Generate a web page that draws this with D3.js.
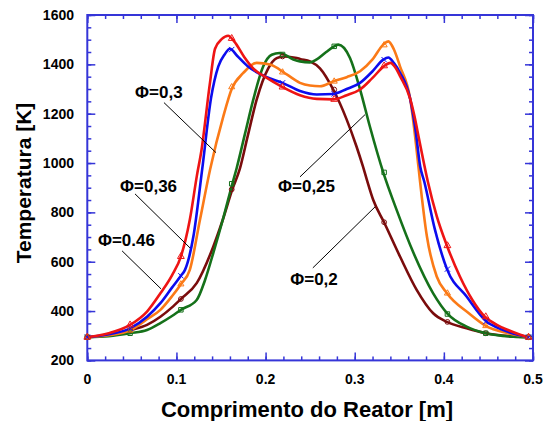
<!DOCTYPE html>
<html><head><meta charset="utf-8">
<script src="https://cdn.jsdelivr.net/npm/d3@7"></script>
<style>body{margin:0;background:#fff}</style>
</head><body><svg id="c" width="543" height="421"></svg>
<script>
// ---------- data ----------
const xTicks = [0, 0.1, 0.2, 0.3, 0.4, 0.5];
const xTickLabels = ["0", "0.1", "0.2", "0.3", "0.4", "0.5"];
const yTicks = [200, 400, 600, 800, 1000, 1200, 1400, 1600];
const xTitle = "Comprimento do Reator [m]";
const yTitle = "Temperatura [K]";

const markerX = [0, 0.048, 0.105, 0.162, 0.219, 0.277, 0.333, 0.404, 0.447, 0.495];

const phi046 = [[0,294],[0.024,310],[0.048,344],[0.067,398],[0.082,472],[0.095,545],[0.105,621],[0.115,770],[0.123,950],[0.128,1050],[0.1376,1325],[0.1433,1463],[0.151,1503],[0.158,1516],[0.165,1492],[0.176,1430],[0.187,1380],[0.2,1348],[0.219,1308],[0.2386,1275],[0.2574,1260],[0.276,1258],[0.291,1275],[0.306,1298],[0.32,1345],[0.334,1396],[0.34,1406],[0.346,1385],[0.351,1351],[0.362,1263],[0.367,1190],[0.372,1100],[0.377,1010],[0.382,925],[0.392,785],[0.4035,665],[0.418,540],[0.432,445],[0.446,377],[0.46,343],[0.472,323],[0.485,305],[0.495,294]];
const phi036 = [[0,294],[0.024,306],[0.048,330],[0.067,377],[0.082,432],[0.095,495],[0.105,543],[0.1096,567],[0.119,702],[0.1289,975],[0.1388,1263],[0.147,1392],[0.154,1440],[0.160,1463],[0.168,1435],[0.18,1392],[0.2,1350],[0.219,1325],[0.2386,1292],[0.2574,1278],[0.276,1280],[0.291,1300],[0.306,1325],[0.32,1372],[0.332,1419],[0.3377,1428],[0.344,1405],[0.351,1365],[0.362,1263],[0.368,1140],[0.3735,985],[0.378,925],[0.39,730],[0.4035,570],[0.4255,459],[0.448,357],[0.46,333],[0.472,316],[0.485,302],[0.495,294]];
const phi030 = [[0,294],[0.024,302],[0.048,322],[0.067,367],[0.082,405],[0.095,460],[0.105,509],[0.115,567],[0.1264,770],[0.1377,973],[0.1526,1189],[0.162,1300],[0.175,1365],[0.19,1406],[0.205,1399],[0.2237,1359],[0.2386,1325],[0.2498,1314],[0.261,1311],[0.276,1331],[0.291,1348],[0.306,1372],[0.32,1420],[0.332,1480],[0.3377,1493],[0.344,1460],[0.3508,1392],[0.3621,1263],[0.3715,985],[0.373,935],[0.381,702],[0.392,540],[0.4035,472],[0.428,391],[0.447,340],[0.472,310],[0.495,294]];
const phi025 = [[0,294],[0.024,298],[0.048,310],[0.067,323],[0.082,351],[0.095,380],[0.105,405],[0.1227,445],[0.132,525],[0.1413,635],[0.152,770],[0.1627,916],[0.1676,980],[0.177,1120],[0.1862,1257],[0.1974,1392],[0.2069,1439],[0.2157,1446],[0.2311,1420],[0.2386,1412],[0.2499,1408],[0.2574,1420],[0.268,1450],[0.277,1473],[0.2816,1480],[0.2947,1426],[0.3059,1300],[0.317,1148],[0.332,962],[0.347,810],[0.366,635],[0.388,472],[0.4045,388],[0.4255,337],[0.447,310],[0.478,296],[0.495,294]];
const phi020 = [[0,294],[0.024,302],[0.048,322],[0.067,344],[0.082,377],[0.095,415],[0.105,449],[0.1227,513],[0.1413,661],[0.152,770],[0.1627,893],[0.171,975],[0.18,1110],[0.19,1257],[0.203,1384],[0.2125,1425],[0.22,1432],[0.235,1426],[0.2386,1422],[0.2499,1412],[0.261,1384],[0.2759,1298],[0.291,1176],[0.302,1067],[0.3093,985],[0.3134,935],[0.3208,850],[0.3329,760],[0.3508,621],[0.3695,486],[0.388,391],[0.4035,356],[0.4255,330],[0.447,310],[0.475,298],[0.495,294]];

const mk046 = [294,344,621,1505,1308,1258,1394,665,377,294];
const mk036 = [294,330,543,1460,1325,1280,1419,570,357,294];
const mk030 = [294,322,509,1308,1368,1331,1478,472,340,294];
const mk025 = [294,310,405,916,1440,1473,962,388,310,294];
const mk020 = [294,322,449,893,1432,1298,760,356,310,294];

const seriesLabels = ["Φ=0.46", "Φ=0,36", "Φ=0,3", "Φ=0,25", "Φ=0,2"];

// ---------- layout ----------
const svg = d3.select("#c");
const L = 87.3, R = 533, T = 15, B = 360.4;
const x = d3.scaleLinear().domain([0, 0.5]).range([L, R]);
const y = d3.scaleLinear().domain([200, 1600]).range([B, T]);
const axisColor = "#3535d8";
const FONT = "'Liberation Sans', Arial, sans-serif";

function drawAxis(gen, tx, ty, vals, size) {
  const g = svg.append("g").attr("transform", `translate(${tx},${ty})`)
    .call(gen.tickValues(vals).tickSizeInner(size).tickSizeOuter(0).tickFormat(""));
  g.select(".domain").remove();
  g.selectAll(".tick line").attr("stroke", axisColor).attr("stroke-width", 1.5);
  g.selectAll(".tick text").remove();
  return g;
}
const xMinor = d3.range(0, 0.5001, 0.02);
const yMinor = d3.range(200, 1600.1, 50);
drawAxis(d3.axisBottom(x), 0, B, xMinor, -4);
drawAxis(d3.axisBottom(x), 0, B, xTicks, -8);
drawAxis(d3.axisTop(x), 0, T, xMinor, -4);
drawAxis(d3.axisTop(x), 0, T, xTicks, -8);
drawAxis(d3.axisLeft(y), L, 0, yMinor, -4);
drawAxis(d3.axisLeft(y), L, 0, yTicks, -8);
drawAxis(d3.axisRight(y), R, 0, yMinor, -4);
drawAxis(d3.axisRight(y), R, 0, yTicks, -8);

svg.append("rect").attr("x", L).attr("y", T).attr("width", R - L).attr("height", B - T)
  .attr("fill", "none").attr("stroke", axisColor).attr("stroke-width", 2);

// tick labels
svg.append("g").selectAll("text").data(xTicks).join("text")
  .attr("x", d => x(d)).attr("y", 384).attr("text-anchor", "middle")
  .attr("font-family", FONT).attr("font-weight", "bold").attr("font-size", 14)
  .text((d, i) => xTickLabels[i]);
svg.append("g").selectAll("text").data(yTicks).join("text")
  .attr("x", 74).attr("y", d => y(d)).attr("dy", "0.36em").attr("text-anchor", "end")
  .attr("font-family", FONT).attr("font-weight", "bold").attr("font-size", 14)
  .text(d => d);

// axis titles
svg.append("text").attr("x", 307).attr("y", 417).attr("text-anchor", "middle")
  .attr("font-family", FONT).attr("font-weight", "bold").attr("font-size", 22).text(xTitle);
svg.append("text").attr("transform", "translate(31,183) rotate(-90)").attr("text-anchor", "middle")
  .attr("font-family", FONT).attr("font-weight", "bold").attr("font-size", 21).text(yTitle);

// ---------- series ----------
const series = [
  {line: phi020, mk: mk020, color: "#7a0c0c", sym: d3.symbolCircle, size: 18},
  {line: phi025, mk: mk025, color: "#15711a", sym: d3.symbolSquare, size: 20},
  {line: phi030, mk: mk030, color: "#fb7a17", sym: d3.symbolTriangle, size: 16},
  {line: phi036, mk: mk036, color: "#0c0cee", sym: d3.symbolTimes, size: 20},
  {line: phi046, mk: mk046, color: "#ee1414", sym: d3.symbolTriangle, size: 20}
];
const lineGen = d3.line().x(d => x(d[0])).y(d => y(d[1])).curve(d3.curveMonotoneX);
const plot = svg.append("g");
series.forEach(s => {
  plot.append("path").datum(s.line).attr("d", lineGen)
    .attr("fill", "none").attr("stroke", s.color).attr("stroke-width", 2.6)
    .attr("stroke-linejoin", "round");
});
series.forEach(s => {
  plot.append("g").selectAll("path").data(markerX.map((xv, i) => [xv, s.mk[i]])).join("path")
    .attr("transform", d => `translate(${x(d[0])},${y(d[1])})`)
    .attr("d", d3.symbol().type(s.sym).size(s.size))
    .attr("fill", "none").attr("stroke", s.color).attr("stroke-width", 1);
});

// ---------- annotations ----------
const annotations = [
  {label: seriesLabels[2], tx: 0.0536, tT: 1265, anchor: "start", from: [0.086, 1245], to: [0.1444, 1042]},
  {label: seriesLabels[1], tx: 0.0368, tT: 883, anchor: "start", from: [0.0535, 875], to: [0.1152, 656]},
  {label: seriesLabels[0], tx: 0.012, tT: 664, anchor: "start", from: [0.039, 644], to: [0.0827, 490]},
  {label: seriesLabels[3], tx: 0.214, tT: 883, anchor: "start", from: [0.2386, 944], to: [0.3115, 1196]},
  {label: seriesLabels[4], tx: 0.281, tT: 506, anchor: "end", from: [0.253, 575], to: [0.323, 823]}
];
annotations.forEach(a => {
  svg.append("line").attr("x1", x(a.from[0])).attr("y1", y(a.from[1]))
    .attr("x2", x(a.to[0])).attr("y2", y(a.to[1])).attr("stroke", "#000").attr("stroke-width", 1);
  svg.append("text").attr("x", x(a.tx)).attr("y", y(a.tT)).attr("text-anchor", a.anchor)
    .attr("font-family", FONT).attr("font-weight", "bold").attr("font-size", 17).text(a.label);
});
</script></body></html>
